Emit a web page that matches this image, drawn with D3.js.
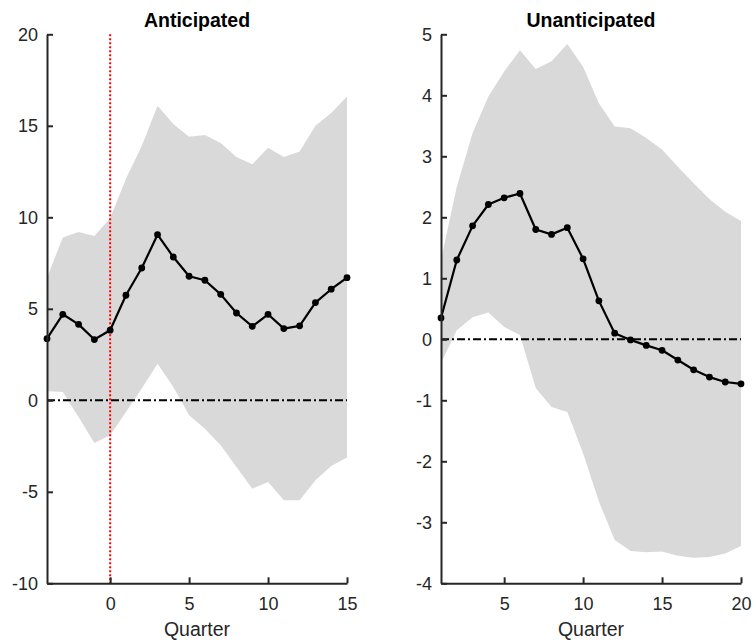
<!DOCTYPE html>
<html>
<head>
<meta charset="utf-8">
<script src="https://cdn.jsdelivr.net/npm/d3@7"></script>
<style>
  html, body { margin: 0; padding: 0; background: #fff; }
  svg { display: block; font-family: "Liberation Sans", Arial, Helvetica, sans-serif; }
</style>
</head>
<body>
<svg id="chart" width="753" height="643"></svg>
<script>
// Anticipated shock: quarters -4..15
const antQuarter = d3.range(-4, 16);
const antMedian = [3.37, 4.7, 4.15, 3.32, 3.83, 5.74, 7.23, 9.05, 7.83, 6.78,
                   6.56, 5.79, 4.77, 4.04, 4.7, 3.92, 4.07, 5.34, 6.07, 6.7];
const antUpper  = [6.7, 8.9, 9.2, 8.98, 9.95, 12.1, 13.9, 16.1, 15.1, 14.4,
                   14.5, 14.06, 13.3, 12.9, 13.8, 13.3, 13.6, 15.0, 15.7, 16.6];
const antLower  = [0.49, 0.45, -0.91, -2.33, -1.91, -0.64, 0.64, 2.0, 0.73, -0.82,
                   -1.55, -2.46, -3.64, -4.83, -4.46, -5.46, -5.46, -4.37, -3.59, -3.13];

// Unanticipated shock: quarters 1..20
const unantQuarter = d3.range(1, 21);
const unantMedian = [0.35, 1.3, 1.86, 2.21, 2.32, 2.39, 1.8, 1.72, 1.83, 1.32,
                     0.63, 0.1, -0.01, -0.1, -0.18, -0.34, -0.5, -0.62, -0.7, -0.73];
const unantUpper  = [1.3, 2.5, 3.38, 3.98, 4.39, 4.74, 4.43, 4.56, 4.84, 4.47,
                     3.87, 3.49, 3.46, 3.3, 3.11, 2.83, 2.56, 2.3, 2.09, 1.94];
const unantLower  = [-0.39, 0.15, 0.36, 0.44, 0.2, 0.07, -0.8, -1.11, -1.19, -1.87,
                     -2.66, -3.29, -3.47, -3.49, -3.48, -3.55, -3.58, -3.57, -3.51, -3.39];

// Tick values
const antXTicks = [0, 5, 10, 15];
const antYTicks = [-10, -5, 0, 5, 10, 15, 20];
const unantXTicks = [5, 10, 15, 20];
const unantYTicks = [-4, -3, -2, -1, 0, 1, 2, 3, 4, 5];

const svg = d3.select("#chart");
const ink = "#262626";
const plain = d => String(d);   // ASCII hyphen for negatives

function panel(opts) {
  const { left, right, top, bottom, xDomain, yDomain, xs, med, up, lo,
          xTicks, yTicks, title, marker } = opts;
  const x = d3.scaleLinear().domain(xDomain).range([left, right]);
  const y = d3.scaleLinear().domain(yDomain).range([bottom, top]);
  const g = svg.append("g");

  // confidence band
  const band = xs.map((q, i) => ({ q, lo: lo[i], up: up[i] }));
  g.append("path")
    .datum(band)
    .attr("fill", "#d9d9d9")
    .attr("d", d3.area().x(d => x(d.q)).y0(d => y(d.lo)).y1(d => y(d.up)));

  // zero reference line
  g.append("line")
    .attr("x1", x(xDomain[0])).attr("x2", x(xDomain[1]))
    .attr("y1", y(0)).attr("y2", y(0))
    .attr("stroke", "#000").attr("stroke-width", 2)
    .attr("stroke-dasharray", "8,3,2,3");

  // shock date marker
  if (marker !== undefined) {
    g.append("line")
      .attr("x1", x(marker)).attr("x2", x(marker))
      .attr("y1", y(yDomain[1])).attr("y2", y(yDomain[0]))
      .attr("stroke", "#ff0000").attr("stroke-width", 2)
      .attr("stroke-dasharray", "2,2");
  }

  // median response
  const pts = xs.map((q, i) => ({ q, v: med[i] }));
  g.append("path")
    .datum(pts)
    .attr("fill", "none").attr("stroke", "#000").attr("stroke-width", 2.2)
    .attr("stroke-linejoin", "round")
    .attr("d", d3.line().x(d => x(d.q)).y(d => y(d.v)));
  g.selectAll("circle.pt").data(pts).join("circle")
    .attr("class", "pt")
    .attr("cx", d => x(d.q)).attr("cy", d => y(d.v)).attr("r", 3.4)
    .attr("fill", "#000");

  // axes (ticks pointing inward)
  const xAxis = g.append("g")
    .attr("transform", `translate(0,${bottom})`)
    .call(d3.axisBottom(x).tickValues(xTicks).tickFormat(plain)
      .tickSizeInner(-6).tickSizeOuter(0).tickPadding(14));
  const yAxis = g.append("g")
    .attr("transform", `translate(${left},0)`)
    .call(d3.axisLeft(y).tickValues(yTicks).tickFormat(plain)
      .tickSizeInner(-6).tickSizeOuter(0).tickPadding(9));
  [xAxis, yAxis].forEach(a => {
    a.select(".domain").attr("stroke", ink).attr("stroke-width", 2);
    a.selectAll(".tick line").attr("stroke", ink).attr("stroke-width", 2);
    a.selectAll(".tick text").attr("fill", ink)
      .style("font-size", "18px");
  });
  xAxis.selectAll(".tick text").attr("dy", "0.71em");

  // title and x label
  g.append("text")
    .attr("x", (left + right) / 2).attr("y", 27)
    .attr("text-anchor", "middle")
    .style("font-size", "19.5px").style("font-weight", "bold")
    .attr("fill", "#000")
    .text(title);
  g.append("text")
    .attr("x", (left + right) / 2).attr("y", 636)
    .attr("text-anchor", "middle")
    .style("font-size", "19.5px")
    .attr("fill", ink)
    .text("Quarter");
}

panel({
  left: 47, right: 347, top: 34.3, bottom: 583.3,
  xDomain: [-4, 15], yDomain: [-10, 20],
  xs: antQuarter, med: antMedian, up: antUpper, lo: antLower,
  xTicks: antXTicks, yTicks: antYTicks, title: "Anticipated", marker: 0
});

panel({
  left: 441, right: 741, top: 34.3, bottom: 583.3,
  xDomain: [1, 20], yDomain: [-4, 5],
  xs: unantQuarter, med: unantMedian, up: unantUpper, lo: unantLower,
  xTicks: unantXTicks, yTicks: unantYTicks, title: "Unanticipated"
});
</script>
</body>
</html>
